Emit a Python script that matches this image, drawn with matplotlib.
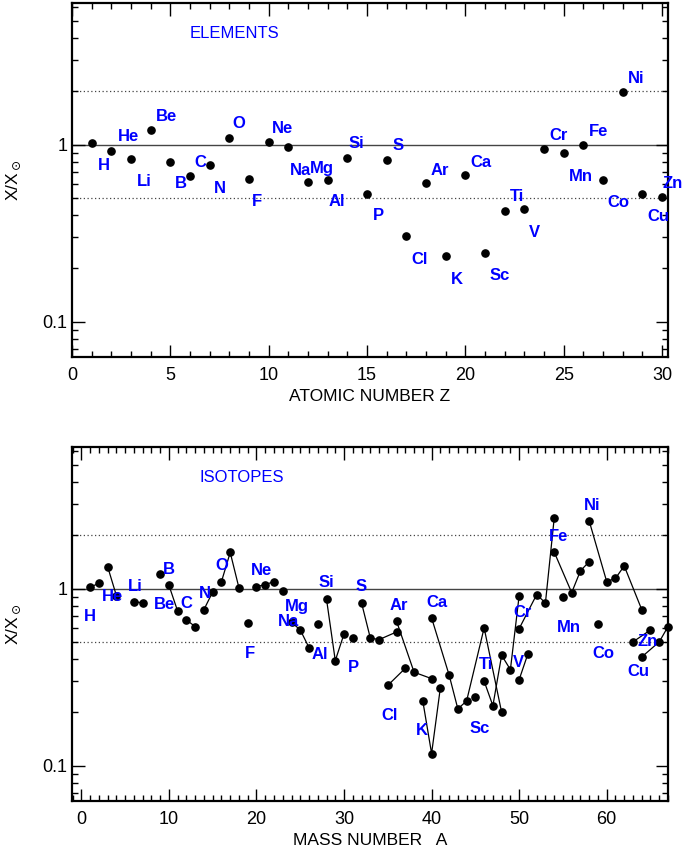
import numpy as np
import matplotlib
matplotlib.use('Agg')
import matplotlib.pyplot as plt
from matplotlib.ticker import LogLocator, FixedLocator, MultipleLocator, NullFormatter, FixedFormatter

plt.rcParams['font.family'] = ['Liberation Sans', 'DejaVu Sans']
plt.rcParams['mathtext.fontset'] = 'dejavusans'

#%% elements (top panel)
el_names = ['H', 'He', 'Li', 'Be', 'B', 'C', 'N', 'O', 'F', 'Ne', 'Na', 'Mg', 'Al', 'Si', 'P',
            'S', 'Cl', 'Ar', 'K', 'Ca', 'Sc', 'Ti', 'V', 'Cr', 'Mn', 'Fe', 'Co', 'Ni', 'Cu', 'Zn']
el_z = np.arange(1, 31)
el_ratio = [1.02, 0.917, 0.834, 1.21, 0.802, 0.666, 0.765, 1.09, 0.637, 1.03,
            0.966, 0.616, 0.632, 0.837, 0.529, 0.816, 0.303, 0.605, 0.236, 0.671,
            0.245, 0.419, 0.430, 0.945, 0.894, 1.00, 0.635, 1.99, 0.529, 0.507]

# label positions (Z, ratio)
el_lab_x = [1.61, 2.85, 3.66, 4.78, 5.55, 6.51, 7.52, 8.49, 9.40, 10.70,
            11.60, 12.72, 13.47, 14.48, 15.58, 16.57, 17.68, 18.70, 19.56, 20.80,
            21.77, 22.63, 23.52, 24.73, 25.87, 26.77, 27.79, 28.69, 29.80, 30.55]
el_lab_y = [0.765, 1.105, 0.616, 1.445, 0.603, 0.792, 0.565, 1.313, 0.479, 1.24,
            0.717, 0.732, 0.475, 1.013, 0.40, 0.983, 0.225, 0.717, 0.173, 0.792,
            0.181, 0.507, 0.319, 1.129, 0.663, 1.189, 0.469, 2.377, 0.391, 0.603]

#%% isotopes (bottom panel), grouped by element
iso_names = ['H', 'He', 'Li', 'Be', 'B', 'C', 'N', 'O', 'F', 'Ne', 'Na', 'Mg', 'Al', 'Si', 'P',
             'S', 'Cl', 'Ar', 'K', 'Ca', 'Sc', 'Ti', 'V', 'Cr', 'Mn', 'Fe', 'Co', 'Ni', 'Cu', 'Zn']
iso_a = [[1, 2], [3, 4], [6, 7], [9], [10, 11], [12, 13], [14, 15], [16, 17, 18], [19],
         [20, 21, 22], [23], [24, 25, 26], [27], [28, 29, 30], [31], [32, 33, 34, 36],
         [35, 37], [36, 38, 40], [39, 40, 41], [40, 42, 43, 44, 46, 48], [45],
         [46, 47, 48, 49, 50], [50, 51], [50, 52, 53, 54], [55], [54, 56, 57, 58], [59],
         [58, 60, 61, 62, 64], [63, 65], [64, 66, 67]]
iso_ratio = [[1.02, 1.07], [1.33, 0.913], [0.845, 0.83], [1.205], [1.044, 0.745],
             [0.665, 0.61], [0.761, 0.958], [1.095, 1.60, 1.009], [0.64],
             [1.026, 1.053, 1.095], [0.966], [0.645, 0.584, 0.464], [0.632],
             [0.87, 0.392, 0.555], [0.529], [0.83, 0.526, 0.515, 0.569],
             [0.284, 0.355], [0.654, 0.337, 0.31], [0.231, 0.117, 0.275],
             [0.683, 0.325, 0.209, 0.232, 0.60, 0.20], [0.2445],
             [0.30, 0.218, 0.42, 0.3485, 0.913], [0.306, 0.428], [0.594, 0.925, 0.83, 2.49],
             [0.893], [1.61, 0.949, 1.26, 1.42], [0.632], [2.41, 1.095, 1.143, 1.343, 0.761],
             [0.50, 0.584], [0.411, 0.50, 0.61]]

iso_lab_x = [0.99, 3.58, 6.13, 9.48, 10.0, 11.96, 14.05, 16.0, 19.2, 20.57,
             23.6, 24.64, 27.2, 28.0, 31.04, 32.0, 35.2, 36.3, 38.85, 40.57,
             45.5, 46.2, 49.94, 50.4, 55.7, 54.5, 59.6, 58.36, 63.6, 64.64]
iso_lab_y = [0.698, 0.898, 1.03, 0.809, 1.28, 0.819, 0.937, 1.349, 0.43, 1.264,
             0.648, 0.788, 0.424, 1.077, 0.359, 1.03, 0.1916, 0.801, 0.158, 0.83,
             0.163, 0.372, 0.38, 0.729, 0.604, 1.96, 0.429, 2.955, 0.338, 0.50]

#%%
fig = plt.figure(figsize=(6.83, 8.52), dpi=100)
ax1 = fig.add_axes([72/683, 1-357/852, 596/683, 354/852])
ax2 = fig.add_axes([72/683, 1-801/852, 596/683, 354/852])

blue = '#0000ff'
lab_font = dict(color=blue, fontsize=12, fontweight='bold', ha='center', va='center',
                fontstretch='condensed')


def style_axis(ax):
    ax.set_yscale('log')
    ax.set_ylim(10**-1.2, 10**0.8)
    ax.axhline(1.0, color='#444444', lw=1.0, zorder=1)
    ax.axhline(2.0, color='#444444', lw=0.9, ls=(0, (1, 2)), zorder=1)
    ax.axhline(0.5, color='#444444', lw=0.9, ls=(0, (1, 2)), zorder=1)
    ax.yaxis.set_major_locator(FixedLocator([0.1, 1.0]))
    ax.yaxis.set_major_formatter(FixedFormatter(['0.1', '1']))
    ax.yaxis.set_minor_locator(LogLocator(base=10, subs=np.arange(2, 10)))
    ax.yaxis.set_minor_formatter(NullFormatter())
    ax.tick_params(which='both', direction='in', top=True, right=True, labelsize=13)
    ax.tick_params(which='major', length=9, width=1)
    ax.tick_params(which='minor', length=4.5, width=1)
    ax.tick_params(axis='x', pad=7)
    for s in ax.spines.values():
        s.set_linewidth(1.6)
    ax.set_ylabel(r'X/X$_\odot$', fontsize=12.5, labelpad=14)


#%% top panel
style_axis(ax1)
ax1.set_xlim(0, 30.3)
ax1.xaxis.set_major_locator(MultipleLocator(5))
ax1.xaxis.set_minor_locator(MultipleLocator(1))
ax1.plot(el_z, el_ratio, 'o', color='black', ms=5.2, zorder=3, clip_on=False)
for name, lx, ly in zip(el_names, el_lab_x, el_lab_y):
    ax1.text(lx, ly, name, clip_on=False, **lab_font)
ax1.text(8.24, 4.23, 'ELEMENTS', color=blue, fontsize=12, ha='center', va='center')
ax1.set_xlabel('ATOMIC NUMBER Z', fontsize=12.5, labelpad=4)

#%% bottom panel
style_axis(ax2)
ax2.set_xlim(-1.07, 67.0)
ax2.xaxis.set_major_locator(MultipleLocator(10))
ax2.xaxis.set_minor_locator(MultipleLocator(1))
for a, r in zip(iso_a, iso_ratio):
    ax2.plot(a, r, '-', color='black', lw=0.9, zorder=2)
    ax2.plot(a, r, 'o', color='black', ms=5.2, zorder=3, clip_on=False)
for name, lx, ly in zip(iso_names, iso_lab_x, iso_lab_y):
    ax2.text(lx, ly, name, clip_on=False, **lab_font)
ax2.text(18.3, 4.22, 'ISOTOPES', color=blue, fontsize=12, ha='center', va='center')
ax2.set_xlabel('MASS NUMBER   A', fontsize=12.5, labelpad=4)

fig.savefig('out.png', dpi=100)
